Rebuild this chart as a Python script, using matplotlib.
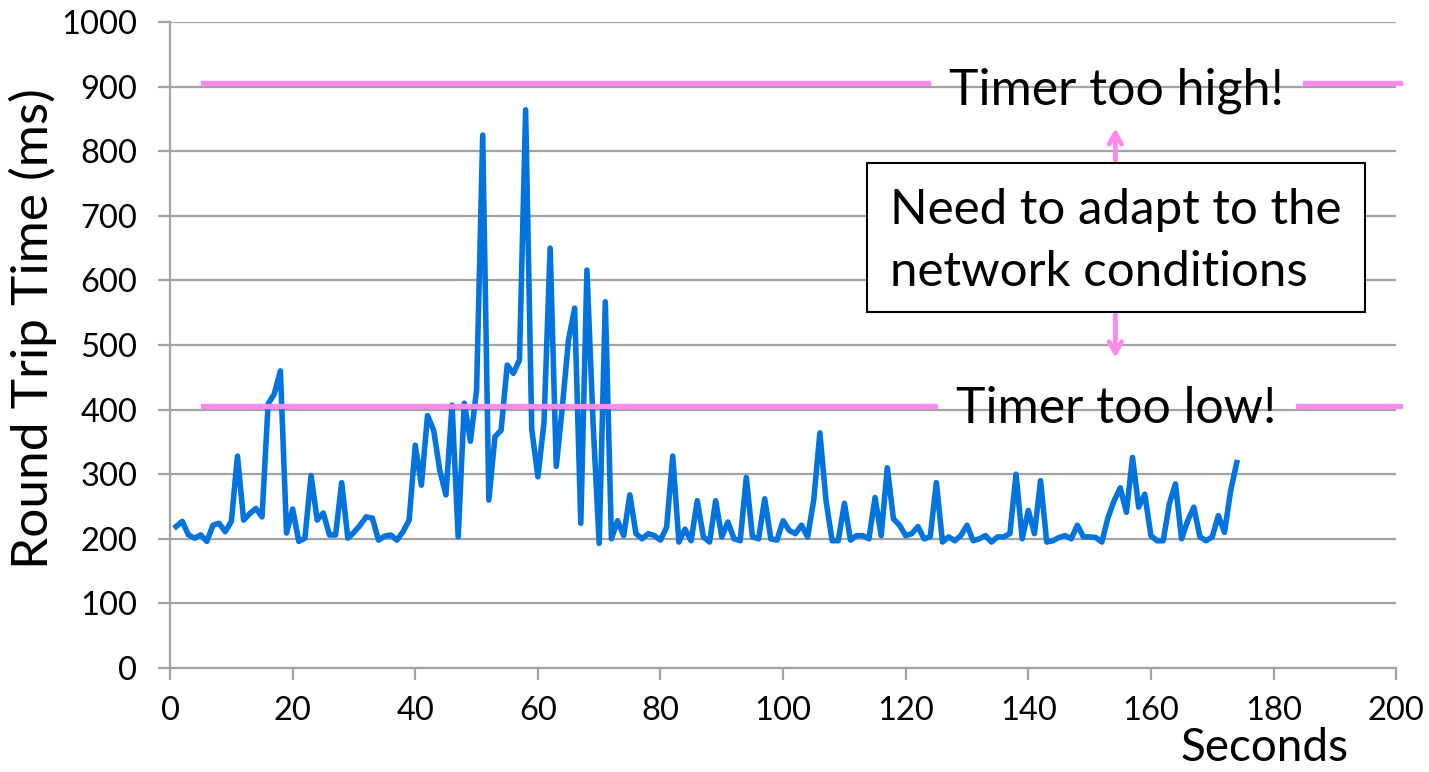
import matplotlib.pyplot as plt
import numpy as np

# RTT samples, one per second (seconds 1..174)
seconds = np.arange(1, 175)
rtt_ms = [
    219, 227, 206, 201, 206, 196, 221, 224, 211, 227,
    328, 229, 239, 247, 234, 409, 424, 460, 209, 246,
    196, 201, 298, 229, 240, 206, 206, 287, 201, 210,
    221, 234, 232, 198, 204, 206, 198, 211, 229, 345,
    283, 391, 368, 306, 268, 407, 203, 410, 351, 430,
    825, 260, 358, 368, 469, 456, 477, 864, 370, 296,
    380, 650, 312, 405, 508, 557, 224, 616, 380, 193,
    567, 200, 228, 205, 268, 208, 200, 208, 205, 198,
    218, 328, 195, 215, 197, 259, 203, 195, 259, 203,
    226, 200, 197, 295, 203, 200, 262, 200, 198, 228,
    213, 208, 221, 203, 260, 364, 259, 197, 197, 255,
    198, 205, 205, 200, 264, 205, 310, 231, 221, 205,
    208, 219, 200, 203, 287, 195, 203, 197, 205, 221,
    197, 200, 205, 195, 203, 203, 208, 300, 200, 244,
    208, 290, 195, 197, 202, 205, 200, 221, 203, 203,
    202, 195, 233, 259, 279, 241, 326, 249, 269, 205,
    197, 197, 254, 285, 200, 228, 249, 203, 197, 203,
    236, 210, 274, 318,
]

y_ticks = [0, 100, 200, 300, 400, 500, 600, 700, 800, 900, 1000]
x_ticks = [0, 20, 40, 60, 80, 100, 120, 140, 160, 180, 200]

# annotation lines (timer too high / too low) and the note box
high_level = 905
low_level = 405
high_segments = [(5.4, 123.7), (185.2, 200.7)]
low_segments = [(5.4, 124.8), (184.0, 200.7)]

blue = "#0073DC"
pink = "#FF8CE8"
grid_gray = "#A3A3A3"
font = "Lato"

fig = plt.figure(figsize=(14.29, 7.72), dpi=100)
ax = fig.add_axes([0.119, 0.1347, 0.858, 0.8368])

ax.plot(seconds, rtt_ms, color=blue, linewidth=4, solid_joinstyle="round", zorder=3)

ax.set_xlim(0, 200)
ax.set_ylim(0, 1000)
ax.set_xticks(x_ticks)
ax.set_yticks(y_ticks)
ax.yaxis.grid(True, color=grid_gray, linewidth=1.6)
ax.set_axisbelow(True)
for side in ["top", "right"]:
    ax.spines[side].set_visible(False)
for side in ["left", "bottom"]:
    ax.spines[side].set_color(grid_gray)
    ax.spines[side].set_linewidth(1.6)
ax.tick_params(axis="both", colors=grid_gray, width=1.6, length=8.5, labelsize=23.5,
               labelcolor="black")
ax.tick_params(axis="x", pad=12)
ax.tick_params(axis="y", pad=15)
for lab in ax.get_xticklabels() + ax.get_yticklabels():
    lab.set_family(font)

# pink timer lines
for x0, x1 in high_segments:
    ax.plot([x0, x1], [high_level, high_level], color=pink, linewidth=3.8, clip_on=False, zorder=4)
for x0, x1 in low_segments:
    ax.plot([x0, x1], [low_level, low_level], color=pink, linewidth=3.8, clip_on=False, zorder=4)

ax.text(154.3, 893, "Timer too high!", fontsize=36, family=font, ha="center", va="center")
ax.text(154.3, 401, "Timer too low!", fontsize=36, family=font, ha="center", va="center")

# note box with double arrow
box = plt.Rectangle((113.7, 551), 81.2, 231, facecolor="white", edgecolor="black",
                    linewidth=1.5, zorder=5)
ax.add_patch(box)
ax.text(117.5, 661, "Need to adapt to the\nnetwork conditions", fontsize=35.5, family=font,
        ha="left", va="center", linespacing=1.5, zorder=6)
arrow = dict(arrowstyle="->,head_length=0.8,head_width=0.45", color=pink, linewidth=3.5)
ax.annotate("", xy=(154.2, 840), xytext=(154.2, 782), arrowprops=arrow)
ax.annotate("", xy=(154.2, 476), xytext=(154.2, 551), arrowprops=arrow)

fig.text(0.944, 0.004, "Seconds", fontsize=33, family=font, ha="right", va="bottom")
fig.text(0.023, 0.575, "Round Trip Time (ms)", fontsize=37, family=font, rotation=90,
         ha="center", va="center")

fig.savefig("out.png", dpi=100)
